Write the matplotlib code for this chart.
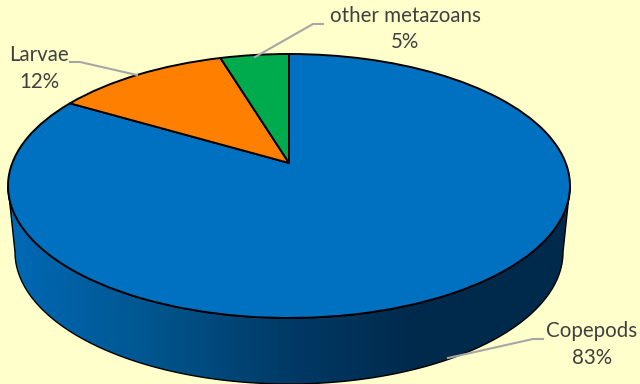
import matplotlib
matplotlib.use('Agg')
import matplotlib.pyplot as plt
import numpy as np
from matplotlib.colors import LinearSegmentedColormap
from matplotlib.patches import Polygon
from matplotlib.transforms import Transform

categories = ['Copepods', 'Larvae', 'other metazoans']
# the labels show them rounded
values = [83.47, 11.86, 4.67]
colors = ['#0070C0', '#FF8000', '#00AB4E']

# disc geometry in image pixels
cx, cy = 289, 186
rx, ry = 281, 132
vertex_y = 163
depth = 66
base_rx = 274


class Tilted(Transform):
  # projective map: unit circle -> ellipse, with the centre pushed back
  input_dims = 2
  output_dims = 2

  def transform_non_affine(self, xy):
    xy = np.asarray(xy)
    c = (cy - vertex_y) / ry
    d = 1 + c * xy[:, 1]
    x = cx + rx * np.sqrt(1 - c ** 2) * xy[:, 0] / d
    y = cy - ry * (xy[:, 1] + c) / d
    return np.column_stack([x, y])


plt.rcParams['font.family'] = ['Lato', 'DejaVu Sans']
fig = plt.figure(figsize=(6.4, 3.84), dpi=100, facecolor='#FFFFCC')
ax = fig.add_axes([0, 0, 1, 1])

# side wall
t = np.linspace(0, np.pi, 200)
upper = np.column_stack([cx + rx * np.cos(t), cy + ry * np.sin(t)])
lower = np.column_stack([cx + base_rx * np.cos(t[::-1]), cy + depth + ry * np.sin(t[::-1])])
wall = Polygon(np.vstack([upper, lower]), closed=True, facecolor='none', edgecolor='black',
               linewidth=1.0, zorder=2)
ax.add_patch(wall)
shade = LinearSegmentedColormap.from_list('shade', [
  (0.0, '#0069B5'), (0.25, '#00568F'), (0.5, '#003A66'), (0.72, '#002A4C'), (1.0, '#002A4C')])
img = ax.imshow(np.linspace(0, 1, 256).reshape(1, -1), cmap=shade, extent=(8, 570, 390, 180),
                aspect='auto', zorder=1)
img.set_clip_path(wall)

# top of the disc
wedges, _ = ax.pie(values, colors=colors, startangle=90, counterclock=False,
                   wedgeprops={'edgecolor': 'black', 'linewidth': 1.4, 'zorder': 3})
for w in wedges:
  w.set_transform(Tilted() + ax.transData)
  w.set_clip_on(False)

ax.set_aspect('auto')
ax.set_xlim(0, 640)
ax.set_ylim(384, 0)
ax.axis('off')

# leader lines
leaders = [
  ([448, 533, 543], [358, 339, 339]),
  ([137, 80, 70], [75, 62, 62]),
  ([255, 313, 323], [57, 24, 24]),
]
for lx, ly in leaders:
  ax.plot(lx, ly, color='#A6A6A6', linewidth=1.5, zorder=4, solid_joinstyle='miter')

# labels
label_pos = [(592, 331, 358), (39, 55, 82), (405, 16, 42)]
for name, val, (tx, y1, y2) in zip(categories, values, label_pos):
  ax.text(tx, y1, name, ha='center', va='center', fontsize=14.8, color='#404040', zorder=5)
  ax.text(tx, y2, f'{val:.0f}%', ha='center', va='center', fontsize=14.8, color='#404040', zorder=5)

fig.savefig('out.png', dpi=100, facecolor=fig.get_facecolor())
